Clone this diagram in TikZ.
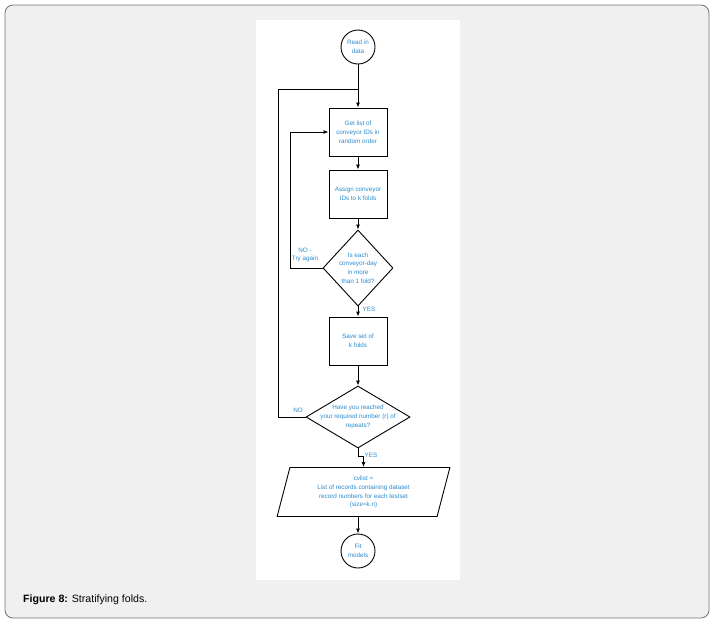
\documentclass[tikz,border=0pt]{standalone}
\usepackage{fontspec}
\setmainfont{Liberation Sans}
\usetikzlibrary{shapes.geometric,arrows.meta}
\definecolor{txtblue}{HTML}{2A8BD0}
\definecolor{panelgray}{HTML}{F0F0F0}

\begin{document}
\begin{tikzpicture}[x=1pt,y=-1pt,font=\fontsize{6.3}{8.8}\selectfont,
    every node/.style={text=txtblue,align=center,inner sep=1pt},
    blk/.style={draw=black,line width=.9pt,minimum width=58pt,minimum height=48pt},
    term/.style={draw=black,line width=.9pt,circle,minimum size=34pt,inner sep=0pt},
    dia/.style={draw=black,line width=.9pt,diamond,inner sep=0pt},
    lbl/.style={inner sep=0pt}]
  \useasboundingbox (0,0) rectangle (714,627);
  \draw[rounded corners=8pt,draw=black!55,line width=.8pt,fill=panelgray]
    (5,5) rectangle (709,618);
  \fill[white] (256,20) rectangle (460,580);

  \node[term] (read) at (358,47) {Read in\\data};
  \node[blk] (get) at (358,132) {Get list of\\conveyor IDs in\\random order};
  \node[blk] (assign) at (358,194) {Assign conveyor\\IDs to k folds};
  \node[dia,minimum width=70pt,minimum height=76pt] (chk) at (358,268) {};
  \node[lbl] (chktxt) at (358,268) {Is each\\conveyor-day\\in more\\than 1 fold?};
  \node[blk] (save) at (358,341) {Save set of\\k folds};
  \node[dia,minimum width=104pt,minimum height=62pt] (rep) at (358,417) {};
  \node[lbl] (reptxt) at (358,417) {Have you reached\\your required number (r) of\\repeats?};
  \node[draw=black,line width=.9pt,trapezium,trapezium stretches=true,
    trapezium left angle=76,trapezium right angle=104,
    minimum width=173pt,minimum height=49pt,inner sep=0pt] (cvl) at (363.5,492)
    {cvlist =\\List of records containing dataset\\record numbers for each testset\\(size=k.n)};
  \node[term] (fit) at (358,551) {Fit\\models};

  \coordinate (top) at (358,89);
  \coordinate (outer) at (278,89);
  \coordinate (inner) at (290,132);

  \draw[line width=.9pt] (read) -- (top);
  \draw[->,>={Latex[length=5pt,width=4pt]},line width=.9pt] (top) -- (get);
  \draw[->,>={Latex[length=5pt,width=4pt]},line width=.9pt] (get) -- (assign);
  \draw[->,>={Latex[length=5pt,width=4pt]},line width=.9pt] (assign) -- (chk);
  \draw[->,>={Latex[length=5pt,width=4pt]},line width=.9pt] (chk) -- (save);
  \draw[->,>={Latex[length=5pt,width=4pt]},line width=.9pt] (save) -- (rep);
  \draw[->,>={Latex[length=5pt,width=4pt]},line width=.9pt] (rep.south) -- ++(0,8) -| (cvl.north);
  \draw[->,>={Latex[length=5pt,width=4pt]},line width=.9pt] (fit |- cvl.south) -- (fit);
  \draw[->,>={Latex[length=5pt,width=4pt]},line width=.9pt]
    (chk.west) -| (inner) -- (get.west);
  \draw[line width=.9pt] (rep.west) -| (outer) -- (top);

  \node[lbl] (tryagain) at (305,255) {NO -\\Try again};
  \node[lbl] (yes1) at (369,309) {YES};
  \node[lbl] (no2) at (298,410) {NO};
  \node[lbl] (yes2) at (371,455) {YES};

  \node[text=black,anchor=west,font=\fontsize{10.6}{12}\selectfont] (cap) at (22,600)
    {\textbf{Figure 8:} Stratifying folds.};
\end{tikzpicture}
\end{document}
